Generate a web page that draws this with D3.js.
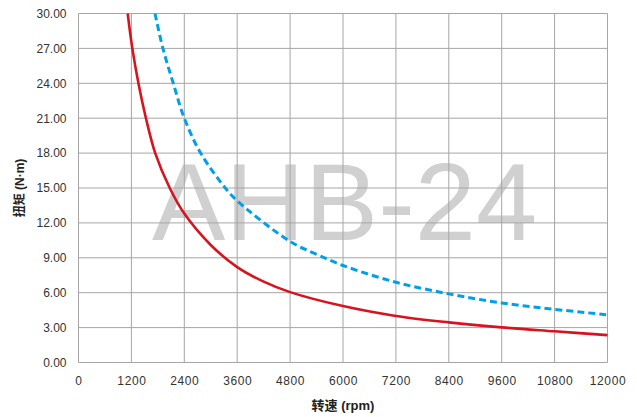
<!DOCTYPE html>
<html><head><meta charset="utf-8">
<script src="https://cdn.jsdelivr.net/npm/d3@7/dist/d3.min.js"></script>
<style>body{margin:0;background:#fff}svg{display:block}</style>
</head><body>
<svg id="c" width="637" height="417"></svg>
<script>
const xTicks = [0,1200,2400,3600,4800,6000,7200,8400,9600,10800,12000];
const yTicks = [0,3,6,9,12,15,18,21,24,27,30];
const redSpeed  = [1116,1221,1360,1530,1740,2070,2400,3000,3600,4200,4800,6000,7200,8400,9600,10800,12000];
const redTorque = [30,27,24,21,18,15,12.8,10.1,8.2,6.95,6.05,4.85,4.0,3.45,3.02,2.68,2.35];
const blueSpeed  = [1735,1915,2150,2400,2771,3330,3600,4800,5400,6000,7200,8400,9600,10800,12000];
const blueTorque = [30,27,24,21,18,15,13.9,10.4,9.3,8.34,6.9,5.9,5.12,4.57,4.1];
const xTitleCJK = "转速", xTitleUnit = " (rpm)";
const yTitleCJK = "扭矩", yTitleUnit = " (N·m)";
const watermark = "AHB-24";

const svg = d3.select("#c");
const L=78.5, R=607.5, T=13.5, B=362.5;
const x = d3.scaleLinear().domain([0,12000]).range([L,R]);
const y = d3.scaleLinear().domain([0,30]).range([B,T]);
const font = "'Liberation Sans', Arial, sans-serif";
const cjk = "'Noto Sans CJK SC', sans-serif";

svg.append("text").attr("x",152).attr("y",240).attr("font-family",font)
  .attr("font-size",110).attr("fill","#d0d0d0").text(watermark);

const g = svg.append("g");
g.selectAll(".vx").data(xTicks).join("line")
  .attr("x1",d=>x(d)).attr("x2",d=>x(d)).attr("y1",T).attr("y2",B)
  .attr("stroke","#a6a6a6").attr("stroke-width",1);
g.selectAll(".hy").data(yTicks).join("line")
  .attr("y1",d=>y(d)).attr("y2",d=>y(d)).attr("x1",L).attr("x2",R)
  .attr("stroke","#a6a6a6").attr("stroke-width",1);

const xa = svg.append("g").attr("transform",`translate(0,${B})`)
  .call(d3.axisBottom(x).tickValues(xTicks).tickSize(0).tickPadding(14).tickFormat(d=>String(d)));
xa.select(".domain").remove();
xa.selectAll("text").attr("font-family",font).attr("font-size",12).attr("fill","#333").attr("letter-spacing","0.6px");

const ya = svg.append("g").attr("transform",`translate(${L},0)`)
  .call(d3.axisLeft(y).tickValues(yTicks).tickSize(0).tickPadding(12).tickFormat(d3.format(".2f")));
ya.select(".domain").remove();
ya.selectAll("text").attr("font-family",font).attr("font-size",12).attr("fill","#333");

const line = d3.line().x(d=>x(d[0])).y(d=>y(d[1])).curve(d3.curveCatmullRom.alpha(0.5));
svg.append("path").datum(blueSpeed.map((s,i)=>[s,blueTorque[i]]))
  .attr("d",line).attr("fill","none").attr("stroke","#00a0e9").attr("stroke-width",3)
  .attr("stroke-dasharray","7,4");
svg.append("path").datum(redSpeed.map((s,i)=>[s,redTorque[i]]))
  .attr("d",line).attr("fill","none").attr("stroke","#d7141d").attr("stroke-width",2.6);

const xt = svg.append("text").attr("x",343).attr("y",410).attr("text-anchor","middle")
  .attr("font-weight","bold").attr("font-size",13).attr("fill","#222");
xt.append("tspan").attr("font-family",cjk).text(xTitleCJK);
xt.append("tspan").attr("font-family",font).text(xTitleUnit);
const yt = svg.append("text").attr("transform","translate(24,188) rotate(-90)").attr("text-anchor","middle")
  .attr("font-weight","bold").attr("font-size",12).attr("fill","#222");
yt.append("tspan").attr("font-family",cjk).text(yTitleCJK);
yt.append("tspan").attr("font-family",font).text(yTitleUnit);
</script>
</body></html>
